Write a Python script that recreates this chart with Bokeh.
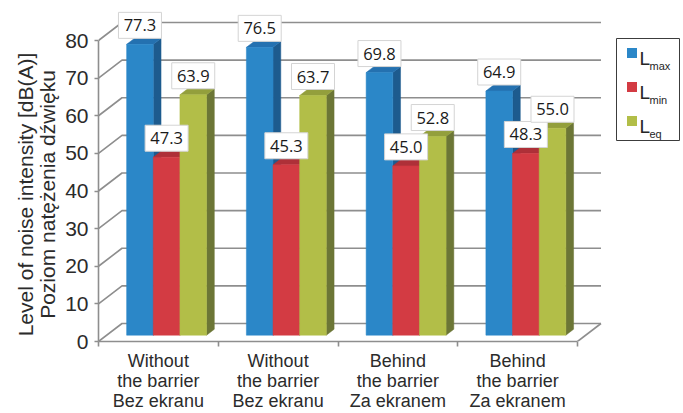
import math
from bokeh.plotting import figure
from bokeh.layouts import row
from bokeh.models import FixedTicker, Range1d, ColumnDataSource
from bokeh.core.properties import value
from bokeh.embed import file_html
from bokeh.resources import INLINE

# ---------------- data ----------------
categories = ["Without\nthe barrier\nBez ekranu", "Without\nthe barrier\nBez ekranu",
              "Behind\nthe barrier\nZa ekranem", "Behind\nthe barrier\nZa ekranem"]
l_max = [77.3, 76.5, 69.8, 64.9]
l_min = [47.3, 45.3, 45.0, 48.3]
l_eq = [63.9, 63.7, 52.8, 55.0]
series_subscripts = ["max", "min", "eq"]
y_ticks = [0, 10, 20, 30, 40, 50, 60, 70, 80]
y_label = "Level of noise intensity [dB(A)]\nPoziom natężenia dźwięku"

# ---------------- style / layout ----------------
front_colors = ["#2B87C8", "#D33B43", "#B2BE48"]
top_colors = ["#2471B0", "#AE3038", "#939F3C"]
side_colors = ["#1D5B8E", "#8E262D", "#6C7636"]
grid_color = "#8E8E8E"
W, H = 683, 413
TITLE_W = 60                 # strip holding the value-axis title
LEFT, BOTTOM = 98, 72        # frame offsets within the whole page
PX_PER_X = 119.75
PX_PER_Y = 3.7625
frame_w = W - LEFT
frame_h = H - BOTTOM
x_end = frame_w / PX_PER_X
y_end = frame_h / PX_PER_Y
DX = 23.5 / PX_PER_X      # depth offset (x) of the back wall
DY = 18.0 / PX_PER_Y      # depth offset (y) of the back wall
D0, D1 = 0.35, 0.68       # bar front/back depth fractions
BAR_W = 0.2225
GROUP_START = 0.5 - 1.5 * BAR_W
n_cat = len(categories)
y_range = Range1d(0, y_end)


def px_x(px):
    return (px - LEFT) / PX_PER_X


def px_y(py):
    return (frame_h - py) / PX_PER_Y


# ---------------- value-axis title strip (shares the value scale) ----------------
t = figure(width=TITLE_W, height=H, output_backend="svg", toolbar_location=None,
           x_range=Range1d(0, TITLE_W), y_range=y_range,
           min_border_left=0, min_border_right=0, min_border_top=0,
           min_border_bottom=BOTTOM)
t.axis.visible = False
t.grid.visible = False
t.outline_line_color = None
t.background_fill_color = "white"
t.border_fill_color = "white"
t.text(x=[36], y=[px_y(194)], text=[y_label], angle=math.pi / 2,
       text_align="center", text_baseline="middle",
       text_font=value("Liberation Sans"), text_font_size=value("21px"),
       text_color="#2B2B2B", text_line_height=0.92)

# ---------------- main chart ----------------
p = figure(width=W - TITLE_W, height=H, output_backend="svg", toolbar_location=None,
           x_range=Range1d(0, x_end), y_range=y_range,
           min_border_left=LEFT - TITLE_W, min_border_bottom=BOTTOM,
           min_border_top=0, min_border_right=0)
p.outline_line_color = None
p.background_fill_color = "white"
p.border_fill_color = "white"
p.xgrid.visible = False
p.ygrid.visible = False

# walls / gridlines
gx, gy = [], []
for v in y_ticks:
    gx.append([0, DX, n_cat + DX])
    gy.append([v, v + DY, v + DY])
gx.append([n_cat, n_cat + DX])
gy.append([0, DY])
p.multi_line(gx, gy, line_color=grid_color, line_width=1.6)

# 3D bars
series = [l_max, l_min, l_eq]
xs, ys, fills = [], [], []
for i in range(n_cat):
    for j, s in enumerate(series):
        v = s[i]
        x0 = i + GROUP_START + j * BAR_W
        x1 = x0 + BAR_W
        # side face
        xs.append([x1 + D0 * DX, x1 + D1 * DX, x1 + D1 * DX, x1 + D0 * DX])
        ys.append([D0 * DY, D1 * DY, v + D1 * DY, v + D0 * DY])
        fills.append(side_colors[j])
        # top face
        xs.append([x0 + D0 * DX, x1 + D0 * DX, x1 + D1 * DX, x0 + D1 * DX])
        ys.append([v + D0 * DY, v + D0 * DY, v + D1 * DY, v + D1 * DY])
        fills.append(top_colors[j])
        # front face
        xs.append([x0 + D0 * DX, x1 + D0 * DX, x1 + D0 * DX, x0 + D0 * DX])
        ys.append([D0 * DY, D0 * DY, v + D0 * DY, v + D0 * DY])
        fills.append(front_colors[j])
bars = ColumnDataSource(dict(xs=xs, ys=ys, fill=fills))
p.patches("xs", "ys", source=bars, fill_color="fill", line_color="fill", line_width=0.5)

# value labels
lx, ly, lt = [], [], []
for i in range(n_cat):
    for j, s in enumerate(series):
        v = s[i]
        x0 = i + GROUP_START + j * BAR_W
        lx.append(x0 + BAR_W / 2 + D0 * DX)
        ly.append(v + D0 * DY + 19.0 / PX_PER_Y)
        lt.append(f"{v:.1f}")
labels = ColumnDataSource(dict(x=lx, y=ly, t=lt))
p.rect("x", "y", width=43, height=26, width_units="screen", height_units="screen",
       source=labels, fill_color="white", line_color="#D4D4D4", line_width=1)
p.text("x", "y", text="t", source=labels, text_align="center", text_baseline="middle",
       text_font=value("Open Sans"), text_font_size=value("16.5px"), text_color="#1A1A1A")

# axes
p.yaxis.ticker = FixedTicker(ticks=y_ticks)
p.yaxis.bounds = (y_ticks[0], y_ticks[-1])
p.yaxis.axis_line_color = grid_color
p.yaxis.axis_line_width = 1.6
p.yaxis.major_tick_line_color = grid_color
p.yaxis.major_tick_line_width = 1.6
p.yaxis.major_tick_out = 4
p.yaxis.major_tick_in = 0
p.yaxis.minor_tick_line_color = None
p.yaxis.major_label_standoff = 6
p.yaxis.major_label_text_font = "Liberation Sans"
p.yaxis.major_label_text_font_size = "21px"
p.yaxis.major_label_text_color = "#2B2B2B"

p.xaxis.ticker = FixedTicker(ticks=[i + 0.5 for i in range(n_cat)],
                             minor_ticks=list(range(n_cat + 1)))
p.xaxis.major_label_overrides = {i + 0.5: c for i, c in enumerate(categories)}
p.xaxis.bounds = (0, n_cat)
p.xaxis.axis_line_color = grid_color
p.xaxis.axis_line_width = 1.6
p.xaxis.major_tick_line_color = None
p.xaxis.major_tick_out = 0
p.xaxis.major_tick_in = 0
p.xaxis.minor_tick_line_color = grid_color
p.xaxis.minor_tick_line_width = 1.6
p.xaxis.minor_tick_out = 5
p.xaxis.minor_tick_in = 0
p.xaxis.major_label_standoff = 4
p.xaxis.major_label_text_font = "Liberation Sans"
p.xaxis.major_label_text_font_size = "18px"
p.xaxis.major_label_text_color = "#2B2B2B"
p.xaxis.major_label_text_line_height = 1.0

# legend (manual, for subscripts)
p.quad(left=[px_x(616)], right=[px_x(679)], top=[px_y(38)], bottom=[px_y(140)],
       fill_color="white", line_color="#3C3C3C", line_width=1)
item_y = [57.5, 91.5, 125.5]
p.rect([px_x(631.5)] * 3, [px_y(y - 5) for y in item_y], width=10, height=10,
       width_units="screen", height_units="screen", fill_color=front_colors, line_color=None)
p.text([px_x(639)] * 3, [px_y(y) for y in item_y], text=["L"] * 3,
       text_font=value("Liberation Sans"), text_font_size=value("19px"),
       text_baseline="alphabetic", text_align="left", text_color="#262626")
p.text([px_x(649)] * 3, [px_y(y + 7.5) for y in item_y], text=series_subscripts,
       text_font=value("Liberation Sans"), text_font_size=value("11px"),
       text_baseline="alphabetic", text_align="left", text_color="#262626")

layout = row(t, p, spacing=0)
open("out.html", "w").write(file_html(layout, INLINE))
